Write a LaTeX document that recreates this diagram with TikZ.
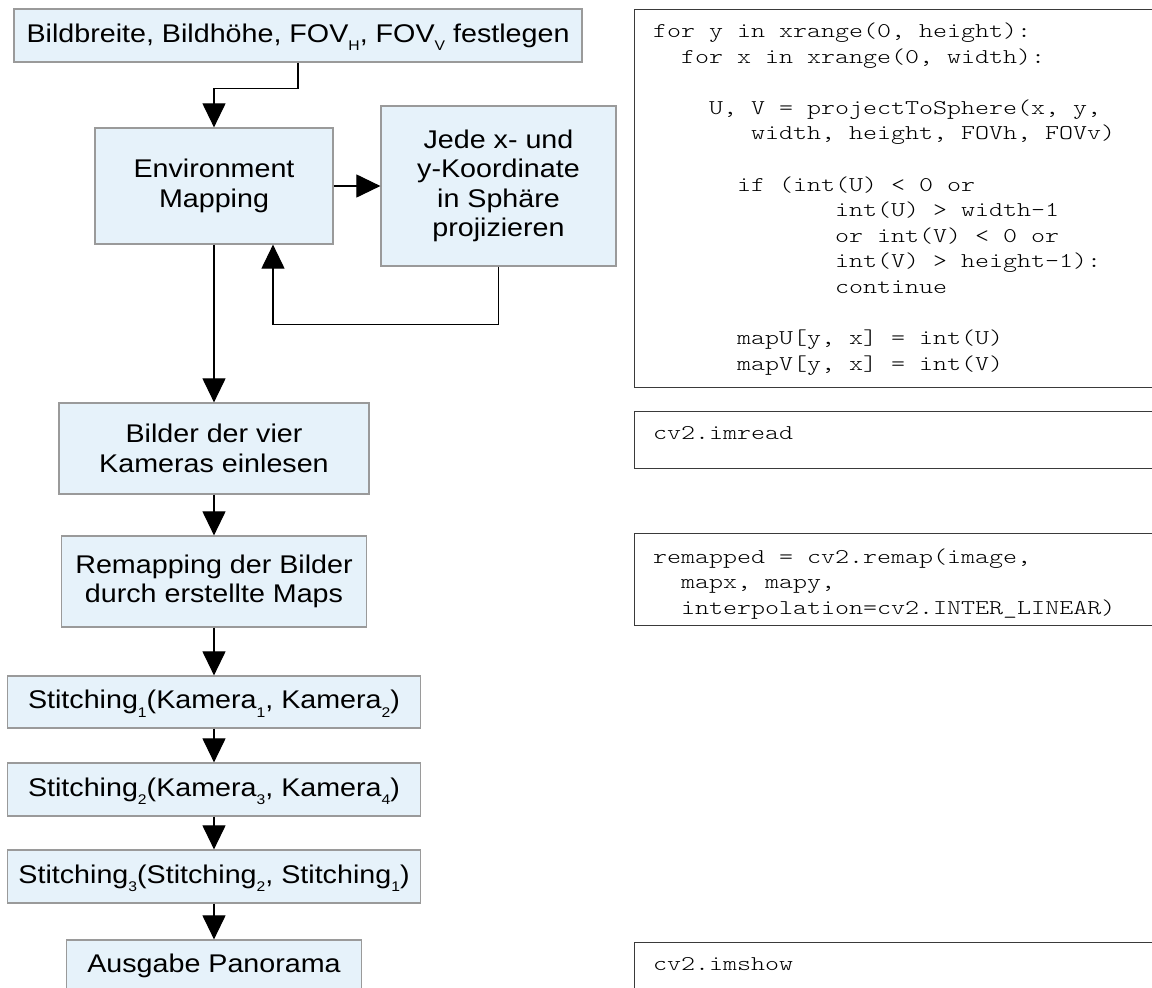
\documentclass[tikz,border=0pt]{standalone}
\usepackage{fontspec}
\setmainfont{Liberation Sans}[FakeStretch=1.12]
\newfontfamily\codefont{Latin Modern Mono Light}[FakeStretch=1.27]
\usetikzlibrary{arrows.meta}
\definecolor{boxfill}{HTML}{E6F2FA}
\definecolor{boxline}{HTML}{9A9A9A}
\definecolor{codeline}{HTML}{3A3A3A}
\newcommand\flowfont{\fontsize{25.6}{29.5}\selectfont}
\newcommand\codesize{\codefont\fontsize{21}{25.6}\selectfont}
% small, deeply lowered index as in the flow labels
\newcommand\lowsub[1]{\raisebox{-8.5pt}[0pt][0pt]{\fontsize{14}{14}\selectfont #1}}
\tikzset{
  flow/.style={draw=boxline, fill=boxfill, line width=1.2pt, inner sep=0pt,
               align=center, font=\flowfont},
  codebox/.style={draw=codeline, fill=white, line width=1.1pt, inner sep=0pt,
                  anchor=north west},
  code/.style={font=\codesize, inner sep=0pt, anchor=base west},
  conn/.style={draw=black, line width=1.1pt,
               -{Triangle[length=24pt,width=23pt]}}
}
\begin{document}
\begin{tikzpicture}[x=1pt, y=-1pt]
\useasboundingbox (0,0) rectangle (1152,988);
\clip (0,0) rectangle (1152,988);

% flow chart
\node[flow, minimum width=568pt, minimum height=53pt] (top) at (298,35.5)
  {Bildbreite, Bildhöhe, FOV\lowsub{H}, FOV\lowsub{V} festlegen};
\node[flow, minimum width=238pt, minimum height=116pt] (env) at (214,186)
  {Environment\\Mapping};
\node[flow, minimum width=235pt, minimum height=160pt] (jede) at (498.5,186)
  {Jede x- und\\y-Koordinate\\in Sphäre\\projizieren};
\node[flow, minimum width=310pt, minimum height=91pt] (bilder) at (214,448.5)
  {Bilder der vier\\Kameras einlesen};
\node[flow, minimum width=305pt, minimum height=91pt] (remap) at (214,581.5)
  {Remapping der Bilder\\durch erstellte Maps};
\node[flow, minimum width=413pt, minimum height=52pt] (s1) at (214,702)
  {Stitching\lowsub{1}(Kamera\lowsub{1}, Kamera\lowsub{2})};
\node[flow, minimum width=413pt, minimum height=53pt] (s2) at (214,789.5)
  {Stitching\lowsub{2}(Kamera\lowsub{3}, Kamera\lowsub{4})};
\node[flow, minimum width=413pt, minimum height=53pt] (s3) at (214,876.5)
  {Stitching\lowsub{3}(Stitching\lowsub{2}, Stitching\lowsub{1})};
\node[flow, minimum width=295pt, minimum height=52pt] (out) at (214,966)
  {Ausgabe Panorama};

% connectors
\coordinate (loopin) at ([xshift=59pt]env.south);
\draw[conn] (top.south) -- ++(0,26) -| (env.north);
\draw[conn] (env.east) -- (jede.west);
\draw[conn] (jede.south) -- ++(0,58) -| (loopin);
\draw[conn] (env.south) -- (bilder.north);
\draw[conn] (bilder.south) -- (remap.north);
\draw[conn] (remap.south) -- (s1.north);
\draw[conn] (s1.south) -- (s2.north);
\draw[conn] (s2.south) -- (s3.north);
\draw[conn] (s3.south) -- (out.north);

% code boxes
\node[codebox, minimum width=526pt, minimum height=378pt] (code1) at (634,9) {};
\node[codebox, minimum width=526pt, minimum height=57pt] (code2) at (634,411) {};
\node[codebox, minimum width=526pt, minimum height=92pt] (code3) at (634,533) {};
\node[codebox, minimum width=526pt, minimum height=57pt] (code4) at (634,942) {};

\foreach \rw/\cind/\txt in {
  0/0/{for y in xrange(0, height):},
  1/2/{for x in xrange(0, width):},
  3/4/{U, V = projectToSphere(x, y,},
  4/7/{width, height, FOVh, FOVv)},
  6/6/{if (int(U) < 0 or},
  7/13/{int(U) > width-1},
  8/13/{or int(V) < 0 or},
  9/13/{int(V) > height-1):},
  10/13/{continue},
  12/6/{mapU[y, x] = int(U)},
  13/6/{mapV[y, x] = int(V)}}
  \node[code] (ca\rw) at (653+\cind*14, 37.5+\rw*25.6) {\txt};

\node[code] (cb0) at (653,439) {cv2.imread};

\foreach \rw/\cind/\txt in {
  0/0/{remapped = cv2.remap(image,},
  1/2/{mapx, mapy,},
  2/2/{interpolation=cv2.INTER\_LINEAR)}}
  \node[code] (cc\rw) at (653+\cind*14, 563+\rw*25.6) {\txt};

\node[code] (cd0) at (653,970) {cv2.imshow};
\end{tikzpicture}
\end{document}
